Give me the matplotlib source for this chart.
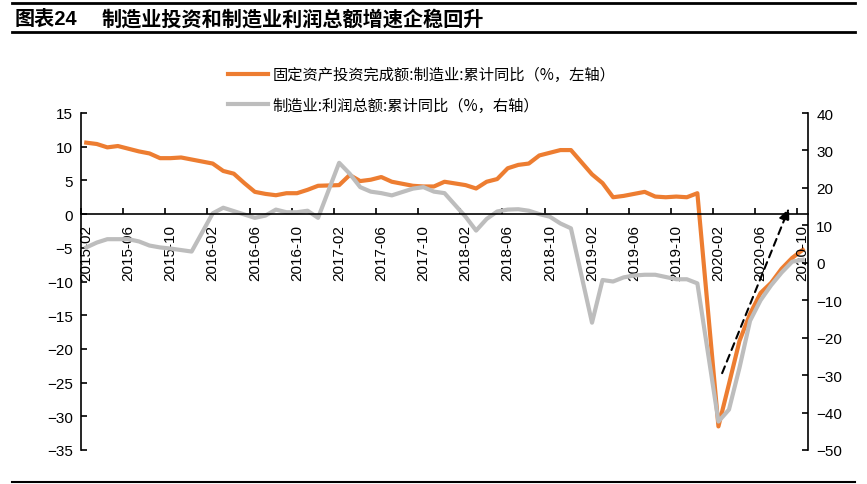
import matplotlib
matplotlib.use("Agg")
import matplotlib.pyplot as plt
from matplotlib.lines import Line2D
import matplotlib.ticker as mticker

plt.rcParams['font.family'] = ['Liberation Sans', 'Noto Sans CJK SC', 'DejaVu Sans']

# ---------------- data ----------------
years = [2015, 2016, 2017, 2018, 2019, 2020]
months_full = list(range(2, 13))          # Feb..Dec (Jan merged into Feb)
months_2020 = list(range(2, 11))          # Feb..Oct

dates = [f"{y}-{m:02d}" for y in years[:-1] for m in months_full] + \
        [f"2020-{m:02d}" for m in months_2020]

invest = [10.6, 10.4, 9.9, 10.1, 9.7, 9.3, 9.0, 8.3, 8.3, 8.4, 8.1,
          7.5, 6.4, 6.0, 4.6, 3.3, 3.0, 2.8, 3.1, 3.1, 3.6, 4.2,
          4.3, 5.8, 4.9, 5.1, 5.5, 4.8, 4.5, 4.2, 4.1, 4.1, 4.8,
          4.3, 3.8, 4.8, 5.2, 6.8, 7.3, 7.5, 8.7, 9.1, 9.5, 9.5,
          5.9, 4.6, 2.5, 2.7, 3.0, 3.3, 2.6, 2.5, 2.6, 2.5, 3.1,
          -31.5, -25.2, -18.8, -14.8, -11.7, -10.2, -8.1, -6.5, -5.3]

profit = [4.1, 5.4, 6.3, 6.3, 6.3, 5.7, 4.6, 4.1, 3.8, 3.4, 3.0,
          13.2, 14.7, 13.8, 12.9, 12.0, 12.6, 14.2, 13.5, 13.5, 13.9, 12.0,
          26.7, 23.8, 20.2, 19.0, 18.6, 18.0, 18.9, 19.8, 20.2, 19.0, 18.6,
          12.3, 8.6, 11.7, 13.7, 14.2, 14.3, 13.9, 13.0, 12.3, 10.5, 9.2,
          -16.0, -4.6, -5.0, -3.9, -3.4, -3.2, -3.2, -3.8, -4.4, -4.4, -5.5,
          -42.4, -39.2, -28.0, -15.5, -10.0, -6.0, -2.6, 0.3, 0.8]

tick_labels = [f"{y}-{m:02d}" for y in years for m in (2, 6, 10)]

label_invest = "固定资产投资完成额:制造业:累计同比（%，左轴）"
label_profit = "制造业:利润总额:累计同比（%，右轴）"
title_no = "图表24"
title_text = "制造业投资和制造业利润总额增速企稳回升"

# month index from 2015-02
def midx(s):
    y, m = s.split("-")
    return (int(y) - 2015) * 12 + int(m) - 2

x = [midx(d) for d in dates]
tick_pos = [midx(t) for t in tick_labels]

ORANGE = "#ED7D31"
GRAY = "#BDBDBD"

fig = plt.figure(figsize=(8.67, 4.85), dpi=100)
ax = fig.add_axes([81 / 867, 1 - 451 / 485, (808 - 81) / 867, (451 - 114) / 485])
ax2 = ax.twinx()

l1, = ax.plot(x, invest, color=ORANGE, lw=3.0, solid_joinstyle='round', label=label_invest)
l2, = ax2.plot(x, profit, color=GRAY, lw=3.0, solid_joinstyle='round', label=label_profit)

ax.set_xlim(-0.5, max(x) + 0.5)
ax.set_ylim(-35, 15)
ax2.set_ylim(-50, 40)
ax.yaxis.set_major_locator(mticker.MultipleLocator(5))
ax2.yaxis.set_major_locator(mticker.MultipleLocator(10))

# spines
for a in (ax, ax2):
    a.spines['top'].set_visible(False)
    a.patch.set_visible(False)
ax.spines['bottom'].set_visible(False)
ax.spines['right'].set_visible(False)
ax2.spines['left'].set_visible(False)
ax.spines['left'].set_linewidth(1.2)
ax2.spines['right'].set_linewidth(1.2)

# x axis drawn on ax2 (so labels sit over lines) at left-axis zero
ax.xaxis.set_visible(False)
ax2.xaxis.set_visible(True)
ax2.spines['bottom'].set_visible(True)
ax2.spines['bottom'].set_position(('axes', 35 / 50))
ax2.spines['bottom'].set_linewidth(1.2)
ax2.set_xticks(tick_pos)
ax2.set_xticklabels(tick_labels, rotation=90, fontsize=11)
ax2.set_xticks([p - 0.5 for p in tick_pos], minor=True)
ax2.tick_params(axis='x', which='major', length=0, pad=7)
ax2.tick_params(axis='x', which='minor', direction='in', length=4, width=1.2)

ax.tick_params(axis='y', direction='in', length=4, width=1.2, labelsize=11, pad=6)
ax2.tick_params(axis='y', direction='in', length=4, width=1.2, labelsize=11, pad=6)
for lab in ax2.get_xticklabels():
    lab.set_va('top')

# dashed trend arrow (data coords of left axis)
ax.annotate('', xy=(66.7, 0.9), xytext=(60.35, -23.6),
            arrowprops=dict(arrowstyle='-|>,head_length=0.7,head_width=0.3',
                            ls=(0, (3.5, 2.5)), lw=1.5, color='black',
                            shrinkA=0, shrinkB=0), zorder=5)

# legend
fig.legend(handles=[l1, l2], loc='upper left', bbox_to_anchor=(228 / 867, 1 - 67 / 485),
           frameon=False, ncol=1, prop={'family': ['Noto Sans CJK SC'], 'size': 11},
           handlelength=2.6, handletextpad=0.3, labelspacing=0.9, borderaxespad=0,
           borderpad=0)

# title and rules
fig.text(15 / 867, 1 - 19 / 485, title_no, fontsize=14.5, fontweight='bold',
         family=['Liberation Sans', 'Noto Sans CJK SC'], va='center', ha='left')
fig.text(102 / 867, 1 - 19 / 485, title_text, fontsize=14.5, fontweight='bold',
         family=['Noto Sans CJK SC'], va='center', ha='left')
fig.add_artist(Line2D([12 / 867, 855 / 867], [1 - 4 / 485] * 2, color='black', lw=2))
fig.add_artist(Line2D([12 / 867, 855 / 867], [1 - 33 / 485] * 2, color='black', lw=2))
fig.add_artist(Line2D([12 / 867, 855 / 867], [1 - 483 / 485] * 2, color='black', lw=1.5))

fig.savefig("out.png", dpi=100)
